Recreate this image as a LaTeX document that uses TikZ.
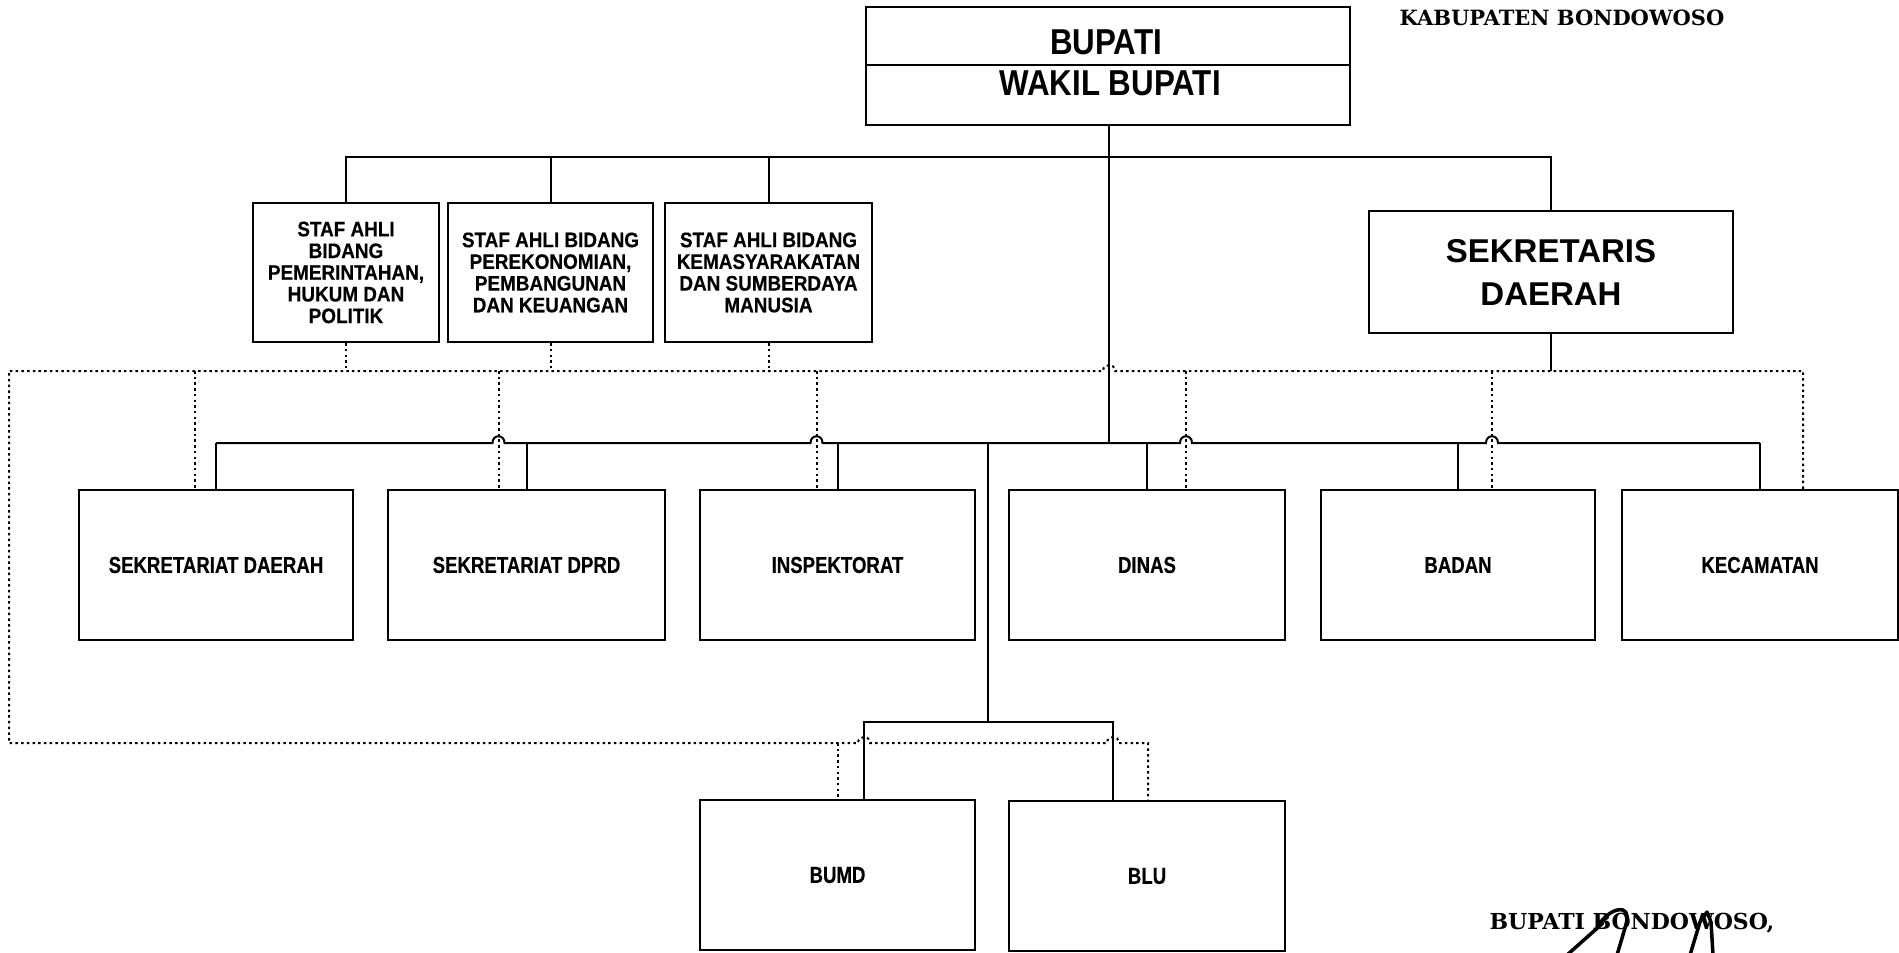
\documentclass[tikz,border=0pt]{standalone}
\usepackage{fontspec}
\setmainfont{Liberation Sans}
\newfontfamily\bigF{Liberation Sans}[FakeStretch=0.87]
\newfontfamily\stafF{Liberation Sans}[FakeStretch=0.9, FakeBold=0.4]
\newfontfamily\rowF{Liberation Sans}[FakeStretch=0.81, FakeBold=0.4]
\newfontfamily\serifF{DejaVu Serif}
\begin{document}
\begin{tikzpicture}[x=1pt,y=-1pt,
  box/.style={draw, line width=2.2pt, rectangle, inner sep=0pt, align=center},
  stafbox/.style={box, minimum height=139pt, font=\stafF\bfseries\fontsize{21}{21.7}\selectfont},
  rowbox/.style={box, minimum height=150pt, minimum width=276pt, font=\rowF\bfseries\fontsize{23}{24}\selectfont},
  conn/.style={line width=2pt},
  dots/.style={line width=2pt, dash pattern=on 2.5pt off 3.2pt},
  sig/.style={line width=3.5pt, line cap=round, line join=round}]
\useasboundingbox[fill=white] (0,0) rectangle (1899,953);

% top
\node[box, minimum width=484pt, minimum height=118pt] (bupati) at (1108,66) {};
\draw[line width=2.2pt] (bupati.west |- 0,65) -- (bupati.east |- 0,65);
\node[font=\bigF\bfseries\fontsize{36}{40}\selectfont] (tbup) at (1106,42) {BUPATI};
\node[font=\bigF\bfseries\fontsize{36}{40}\selectfont] (twak) at (1110,83) {WAKIL BUPATI};
\node[font=\serifF\bfseries\fontsize{21}{24}\selectfont] (kab) at (1562,18) {KABUPATEN BONDOWOSO};

% staf ahli
\node[stafbox, minimum width=186pt] (staf1) at (346,272.5) {STAF AHLI\\BIDANG\\PEMERINTAHAN,\\HUKUM DAN\\POLITIK};
\node[stafbox, minimum width=205pt] (staf2) at (550.5,272.5) {STAF AHLI BIDANG\\PEREKONOMIAN,\\PEMBANGUNAN\\DAN KEUANGAN};
\node[stafbox, minimum width=207pt] (staf3) at (768.5,272.5) {STAF AHLI BIDANG\\KEMASYARAKATAN\\DAN SUMBERDAYA\\MANUSIA};
\node[box, minimum width=364pt, minimum height=122pt, font=\bfseries\fontsize{33}{43}\selectfont] (sek) at (1551,272) {SEKRETARIS\\DAERAH};

% row
\node[rowbox, minimum width=274pt] (sd) at (216,565) {SEKRETARIAT DAERAH};
\node[rowbox, minimum width=277pt] (dprd) at (526.5,565) {SEKRETARIAT DPRD};
\node[rowbox, minimum width=275pt] (insp) at (837.5,565) {INSPEKTORAT};
\node[rowbox] (dinas) at (1147,565) {DINAS};
\node[rowbox, minimum width=274pt] (badan) at (1458,565) {BADAN};
\node[rowbox] (kec) at (1760,565) {KECAMATAN};
\node[rowbox, minimum width=275pt] (bumd) at (837.5,875) {BUMD};
\node[rowbox] (blu) at (1147,876) {BLU};

% dotted drop points
\coordinate (dSD) at ([xshift=-21pt]sd.north);
\coordinate (dDPRD) at ([xshift=-28pt]dprd.north);
\coordinate (dINSP) at ([xshift=-21pt]insp.north);
\coordinate (dDINAS) at ([xshift=39pt]dinas.north);
\coordinate (dBADAN) at ([xshift=34pt]badan.north);
\coordinate (dKEC) at ([xshift=43pt]kec.north);
\coordinate (dBLU) at ([xshift=1pt]blu.north);
\coordinate (sBUMD) at ([xshift=26.5pt]bumd.north);
\coordinate (sBLU) at ([xshift=-34pt]blu.north);
\coordinate (bupS) at ([xshift=1pt]bupati.south);
\coordinate (j1) at (988,443);
\coordinate (j2) at (988,722);

% solid connectors
\draw[conn] (staf1.north) -- (staf1.north |- 0,157) -- (sek.north |- 0,157) -- (sek.north);
\draw[conn] (staf2.north) -- (staf2.north |- 0,157);
\draw[conn] (staf3.north) -- (staf3.north |- 0,157);
\draw[conn] (bupS) -- (bupS |- 0,443);
\draw[conn] (sd.north |- 0,443) -- (492.5,443) .. controls (492.5,434) and (504.5,434) .. (504.5,443)
  -- (810.5,443) .. controls (810.5,434) and (822.5,434) .. (822.5,443)
  -- (1180,443) .. controls (1180,434) and (1192,434) .. (1192,443)
  -- (1486,443) .. controls (1486,434) and (1498,434) .. (1498,443)
  -- (kec.north |- 0,443);
\foreach \n in {sd,dprd,insp,dinas,badan,kec} \draw[conn] (\n.north) -- (\n.north |- 0,443);
\draw[conn] (j1) -- (j2);
\draw[conn] (sBUMD) -- (sBUMD |- j2) -- (sBLU |- j2) -- (sBLU);
\draw[conn] (sek.south) -- (sek.south |- 0,371);

% dotted connectors
\draw[dots] (staf1.south) -- (staf1.south |- 0,371);
\draw[dots] (staf2.south) -- (staf2.south |- 0,371);
\draw[dots] (staf3.south) -- (staf3.south |- 0,371);
\draw[dots] (dKEC) -- (dKEC |- 0,371) -- (1115,371) .. controls (1115,363) and (1103,363) .. (1103,371)
  -- (9,371) -- (9,743) -- (858,743) .. controls (858,735) and (870,735) .. (870,743)
  -- (1107,743) .. controls (1107,735) and (1119,735) .. (1119,743) -- (dBLU |- 0,743) -- (dBLU);
\foreach \c in {dSD,dDPRD,dINSP,dDINAS,dBADAN} \draw[dots] (\c |- 0,371) -- (\c);
\draw[dots] (bumd.north |- 0,743) -- (bumd.north);

% signature block
\node[font=\serifF\bfseries\fontsize{22}{24}\selectfont] (ttd) at (1632,923) {BUPATI BONDOWOSO,};
\draw[sig] (1567,955) -- (1603,923);
\draw[sig] (1597,927) .. controls (1605,915) and (1615,908) .. (1623,910) .. controls (1628,912) and (1628,918) .. (1625,928) -- (1617,955);
\draw[sig] (1690,955) -- (1700,922) -- (1707,912) -- (1711,922) -- (1713,955);
\end{tikzpicture}
\end{document}
